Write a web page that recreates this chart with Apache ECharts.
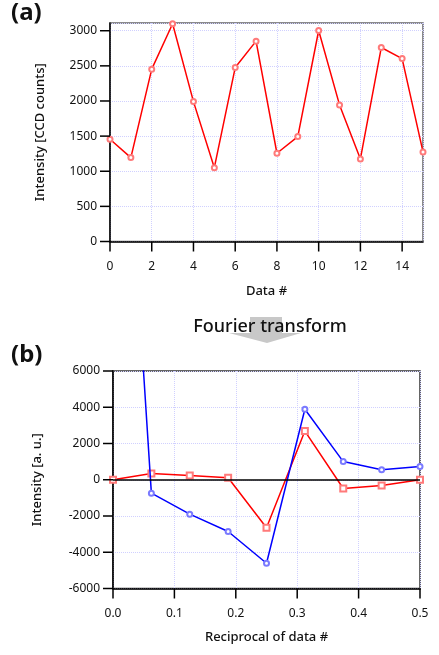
<!DOCTYPE html>
<html>
<head>
<meta charset="utf-8">
<script src="https://cdn.jsdelivr.net/npm/echarts@6/dist/echarts.min.js"></script>
<style>
  html, body { margin: 0; padding: 0; background: #fff; }
  #chart { width: 439px; height: 655px; }
</style>
</head>
<body>
<div id="chart"></div>
<script>
// (a) raw intensity per data index
const dataIndex = [0, 1, 2, 3, 4, 5, 6, 7, 8, 9, 10, 11, 12, 13, 14, 15];
const intensity = [1456, 1194, 2453, 3100, 1991, 1051, 2476, 2852, 1256, 1493, 3003, 1944, 1175, 2761, 2604, 1275];

// (b) Fourier transform: real (blue) and imaginary (red) parts
const reciprocal = [0, 0.0625, 0.125, 0.1875, 0.25, 0.3125, 0.375, 0.4375, 0.5];
const realPart = [32084, -740, -1900, -2856, -4608, 3890, 1003, 548, 730];
const imagPart = [0, 348, 238, 110, -2650, 2685, -481, -315, 0];

// tick values
const xTicksA = [0, 2, 4, 6, 8, 10, 12, 14];
const yTicksA = [0, 500, 1000, 1500, 2000, 2500, 3000];
const xTicksB = [0, 0.1, 0.2, 0.3, 0.4, 0.5];
const yTicksB = [-6000, -4000, -2000, 0, 2000, 4000, 6000];

const FONT = 'Noto Sans';
const gridLine = { show: true, lineStyle: { color: '#d0d0ff', type: 'dotted', width: 1 } };
const axisLine = { show: true, onZero: false, lineStyle: { color: '#000', width: 1.5 } };
const labelStyle = { color: '#111', fontFamily: FONT, fontSize: 12 };
const nameStyle = { color: '#111', fontFamily: FONT, fontSize: 13, fontWeight: 500 };
const TICK_LEN = 10;

// outward tick marks, placed through the axis scales
function tickSeries(axisIdx, points, dir) {
  return {
    type: 'custom', xAxisIndex: axisIdx, yAxisIndex: axisIdx, silent: true, z: 5,
    data: points,
    renderItem: (params, api) => {
      const p = api.coord([api.value(0), api.value(1)]);
      const dx = dir === 'x' ? 0 : -TICK_LEN;
      const dy = dir === 'x' ? TICK_LEN : 0;
      return {
        type: 'line',
        shape: { x1: p[0], y1: p[1], x2: p[0] + dx, y2: p[1] + dy },
        style: { stroke: '#000', lineWidth: 1.5 }
      };
    }
  };
}

const chart = echarts.init(document.getElementById('chart'), null, { renderer: 'canvas' });

chart.setOption({
  animation: false,
  backgroundColor: '#fff',
  grid: [
    { left: 110, top: 23, width: 313, height: 218.5, show: true, borderColor: '#666', borderWidth: 1.5, backgroundColor: 'transparent' },
    { left: 113, top: 371, width: 307, height: 217.5, show: true, borderColor: '#333', borderWidth: 1.5, backgroundColor: 'transparent' }
  ],
  xAxis: [
    {
      type: 'value', gridIndex: 0, min: 0, max: 15, interval: 2,
      name: 'Data #', nameLocation: 'middle', nameGap: 43, nameTextStyle: nameStyle,
      axisLine, axisTick: { show: false },
      axisLabel: Object.assign({ margin: 19, customValues: xTicksA, formatter: v => String(v) }, labelStyle),
      splitLine: gridLine
    },
    {
      type: 'value', gridIndex: 1, min: 0, max: 0.5, interval: 0.1,
      name: 'Reciprocal of data #', nameLocation: 'middle', nameGap: 42, nameTextStyle: nameStyle,
      axisLine, axisTick: { show: false },
      axisLabel: Object.assign({ margin: 19, formatter: v => v.toFixed(1) }, labelStyle),
      splitLine: gridLine
    }
  ],
  yAxis: [
    {
      type: 'value', gridIndex: 0, min: 0, max: 3110, interval: 500,
      name: 'Intensity [CCD counts]', nameLocation: 'middle', nameGap: 63, nameTextStyle: nameStyle,
      axisLine, axisTick: { show: false },
      axisLabel: Object.assign({ margin: 13, customValues: yTicksA, formatter: v => String(v) }, labelStyle),
      splitLine: gridLine
    },
    {
      type: 'value', gridIndex: 1, min: -6000, max: 6000, interval: 2000,
      name: 'Intensity [a. u.]', nameLocation: 'middle', nameGap: 69, nameTextStyle: nameStyle,
      axisLine, axisTick: { show: false },
      axisLabel: Object.assign({ margin: 13, formatter: v => String(v) }, labelStyle),
      splitLine: gridLine
    }
  ],
  series: [
    {
      type: 'line', xAxisIndex: 0, yAxisIndex: 0,
      data: dataIndex.map((x, i) => [x, intensity[i]]),
      symbol: 'emptyCircle', symbolSize: 5, clip: false,
      lineStyle: { color: '#ff0000', width: 1.5 },
      itemStyle: { color: '#ff7a7a', borderColor: '#ff7a7a', borderWidth: 0.8 }
    },
    {
      type: 'line', xAxisIndex: 1, yAxisIndex: 1,
      data: reciprocal.map((x, i) => [x, imagPart[i]]),
      symbol: 'emptyRect', symbolSize: 6, clip: false,
      lineStyle: { color: '#ff0000', width: 1.5 },
      itemStyle: { color: '#ff7a7a', borderColor: '#ff7a7a', borderWidth: 0.8 },
      markLine: {
        silent: true, symbol: 'none', label: { show: false },
        lineStyle: { color: '#000', width: 1.5, type: 'solid' },
        data: [{ yAxis: 0 }]
      },
      z: 3
    },
    {
      type: 'line', xAxisIndex: 1, yAxisIndex: 1,
      data: reciprocal.map((x, i) => [x, realPart[i]]),
      symbol: 'emptyCircle', symbolSize: 5, clip: true,
      lineStyle: { color: '#0000ff', width: 1.5 },
      itemStyle: { color: '#7a7aff', borderColor: '#7a7aff', borderWidth: 0.8 },
      z: 4
    },
    tickSeries(0, xTicksA.map(v => [v, 0]), 'x'),
    tickSeries(0, yTicksA.map(v => [0, v]), 'y'),
    tickSeries(1, xTicksB.map(v => [v, -6000]), 'x'),
    tickSeries(1, yTicksB.map(v => [0, v]), 'y')
  ],
  graphic: [
    { type: 'text', left: 11, top: 1, style: { text: '(a)', font: 'bold 24px "Noto Sans"', fill: '#111' } },
    { type: 'text', left: 11, top: 343, style: { text: '(b)', font: 'bold 24px "Noto Sans"', fill: '#111' } },
    {
      type: 'polygon', z: 1,
      shape: { points: [[250, 317], [282, 317], [282, 333], [301, 333], [267, 343], [229, 333], [250, 333]] },
      style: { fill: '#c8c8c8' }
    },
    { type: 'text', z: 2, x: 270, y: 327, style: { text: 'Fourier transform', font: '500 18px "Noto Sans"', fill: '#111', align: 'center', verticalAlign: 'middle' } }
  ]
});
</script>
</body>
</html>
